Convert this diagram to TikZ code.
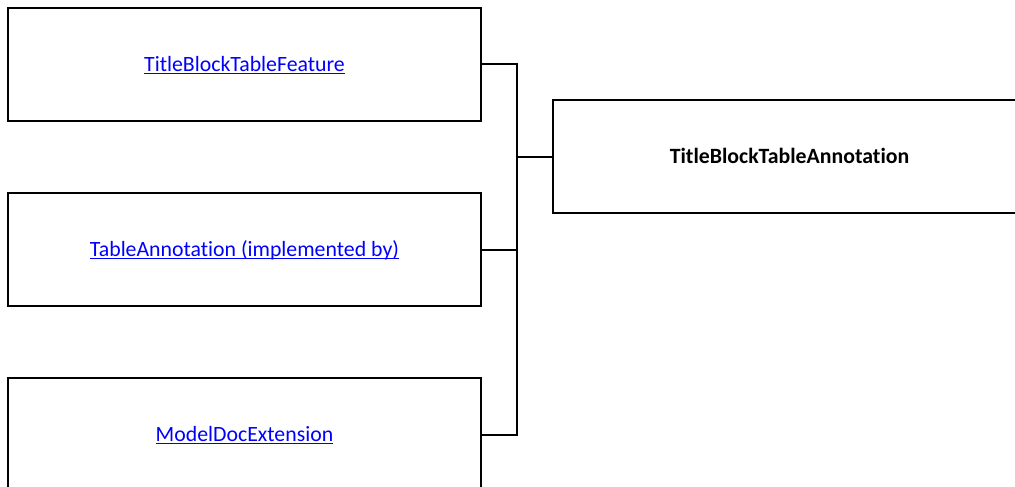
\documentclass[tikz,border=0pt]{standalone}
\usepackage{fontspec}
\setmainfont{Carlito}[Ligatures=NoCommon]
\usetikzlibrary{positioning}
\definecolor{linkblue}{RGB}{0,0,255}

% link text: blue, underlined
\newcommand{\lnk}[1]{\setbox0\hbox{#1}\rlap{\rule[-3pt]{\wd0}{1.3pt}}\box0}

\tikzset{
  classbox/.style={draw, line width=1.3pt, minimum width=473pt, minimum height=113pt,
                   inner sep=0pt, text height=15pt, text depth=2pt,
                   font=\fontsize{21.8}{26}\selectfont},
  linkbox/.style={classbox, text=linkblue},
  wire/.style={line width=2pt}
}

\begin{document}
\begin{tikzpicture}[x=1pt, y=-1pt]

\useasboundingbox (0,0) rectangle (1015,487);

%---------------------------------------
% Left column
%---------------------------------------
\node[linkbox] (tbf) at (244.5,64.5)  {\lnk{TitleBlockTableFeature}};
\node[linkbox] (ta)  at (244.5,249.5) {\lnk{TableAnnotation (implemented by)}};
\node[linkbox] (mde) at (244.5,434.5) {\lnk{ModelDocExtension}};

%---------------------------------------
% Right box
%---------------------------------------
\node[classbox] (tbta) at (789.5,156.5) {\textbf{TitleBlockTableAnnotation}};

% Connectors
\coordinate (bus) at (517,156.5);
\draw[wire] (tbf.east) -| (bus) -- (tbta.west);
\draw[wire] (ta.east)  -| (bus);
\draw[wire] (mde.east) -| (bus);

\end{tikzpicture}
\end{document}
